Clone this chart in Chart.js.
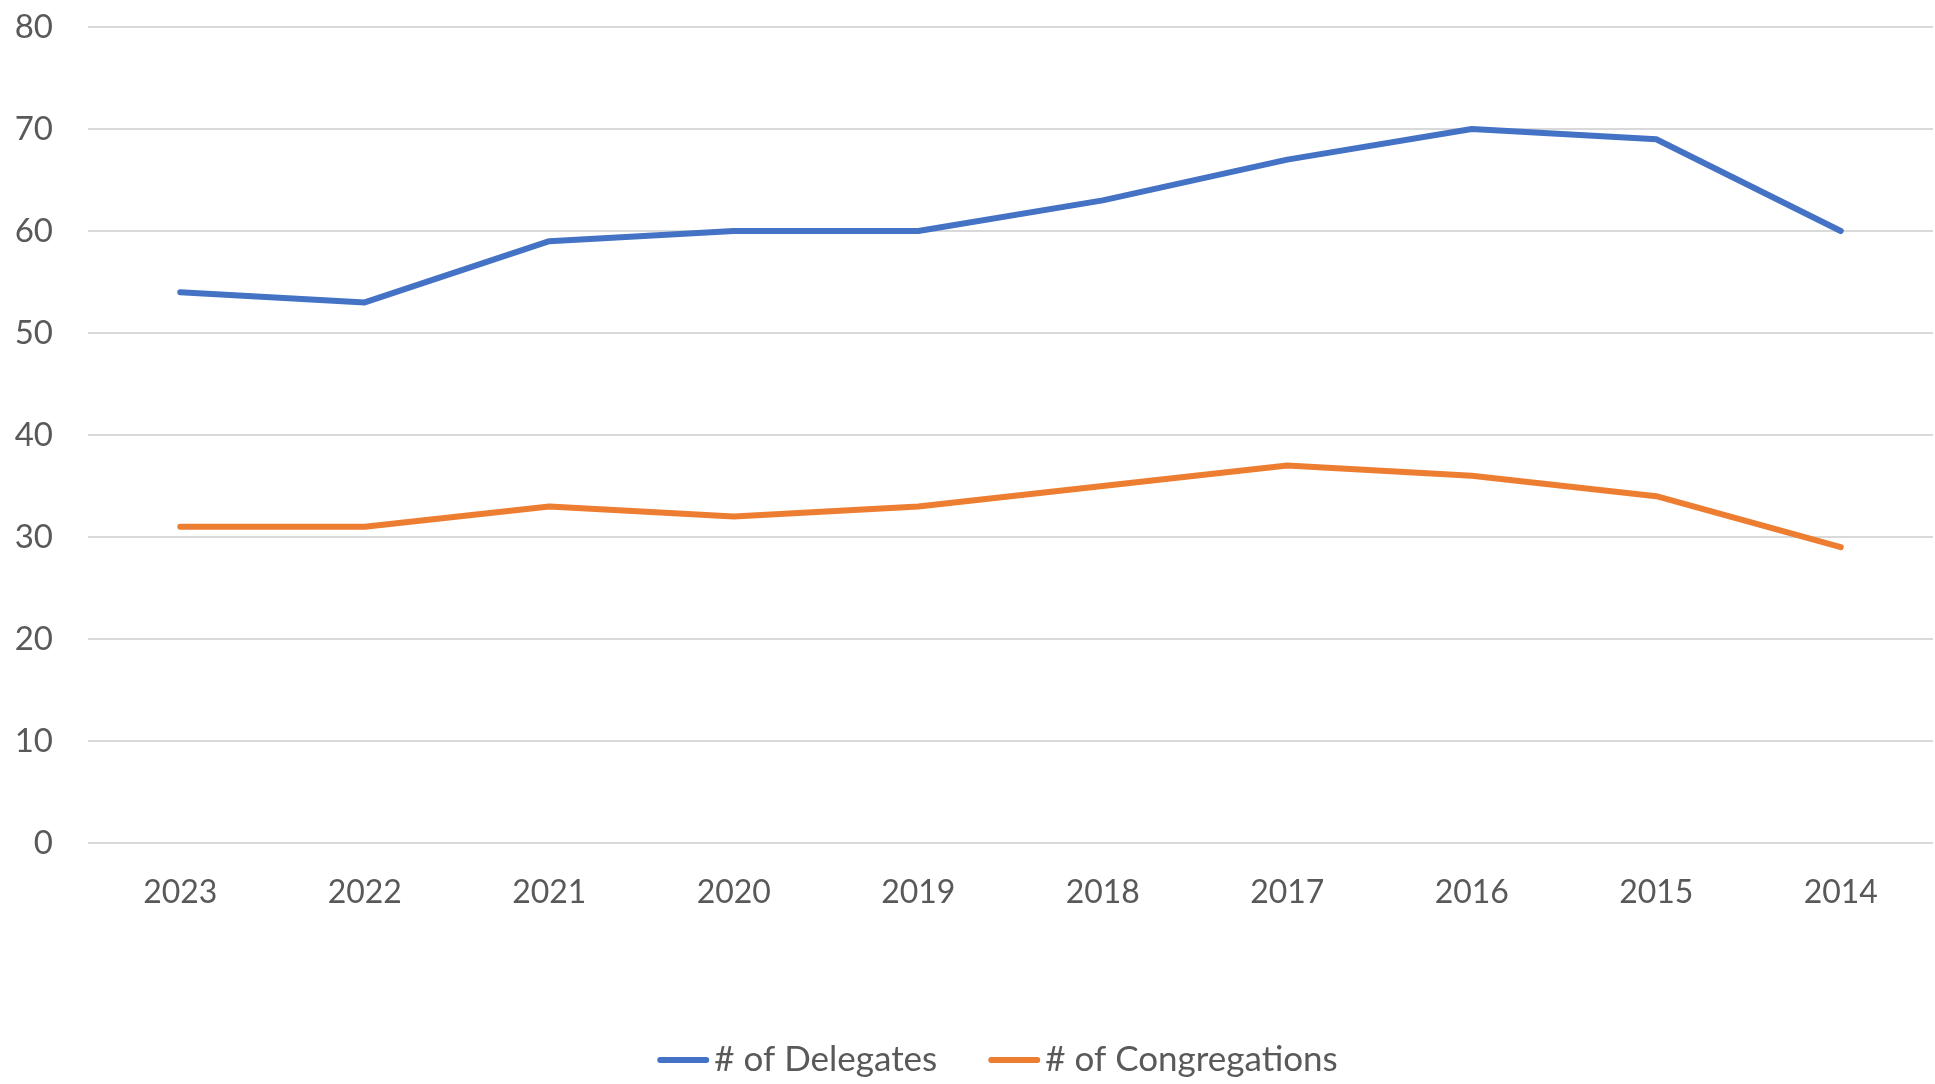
<!DOCTYPE html>
<html>
<head>
<meta charset="utf-8">
<script src="https://cdn.jsdelivr.net/npm/chart.js@4.4.0/dist/chart.umd.min.js"></script>
<style>
  html, body { margin: 0; padding: 0; background: #fff; }
  #wrap { width: 1935px; height: 1084px; }
</style>
</head>
<body>
<div id="wrap"><canvas id="chart"></canvas></div>
<script>
// data
const years = ['2023', '2022', '2021', '2020', '2019', '2018', '2017', '2016', '2015', '2014'];
const delegates = [54, 53, 59, 60, 60, 63, 67, 70, 69, 60];
const congregations = [31, 31, 33, 32, 33, 35, 37, 36, 34, 29];
const yTicks = [0, 10, 20, 30, 40, 50, 60, 70, 80];

const textColor = '#595959';
const fontFamily = 'Lato, "Open Sans", sans-serif';

// legend like the office one: short line, text right after it
const lineLegend = {
  id: 'lineLegend',
  afterDraw(chart) {
    const ctx = chart.ctx;
    const sets = chart.data.datasets;
    const lineLen = 52, gap = 5, itemGap = 51, y = 1060;
    ctx.save();
    ctx.font = '35px ' + fontFamily;
    const widths = sets.map(ds => lineLen + gap + ctx.measureText(ds.label).width);
    const total = widths.reduce((a, b) => a + b, 0) + itemGap * (sets.length - 1);
    let x = (chart.chartArea.left + chart.chartArea.right) / 2 - 13 - total / 2;
    sets.forEach((ds, i) => {
      ctx.strokeStyle = ds.borderColor;
      ctx.lineWidth = 6;
      ctx.lineCap = 'round';
      ctx.beginPath();
      ctx.moveTo(x + 3, y);
      ctx.lineTo(x + lineLen - 3, y);
      ctx.stroke();
      ctx.fillStyle = textColor;
      ctx.textBaseline = 'middle';
      ctx.textAlign = 'left';
      ctx.fillText(ds.label, x + lineLen + gap, y);
      x += widths[i] + itemGap;
    });
    ctx.restore();
  }
};

new Chart(document.getElementById('chart'), {
  type: 'line',
  data: {
    labels: years,
    datasets: [
      {
        label: '# of Delegates',
        data: delegates,
        borderColor: '#4472C4',
        backgroundColor: '#4472C4',
        borderWidth: 6,
        pointRadius: 0,
        tension: 0,
        borderCapStyle: 'round',
        borderJoinStyle: 'round'
      },
      {
        label: '# of Congregations',
        data: congregations,
        borderColor: '#ED7D31',
        backgroundColor: '#ED7D31',
        borderWidth: 6,
        pointRadius: 0,
        tension: 0,
        borderCapStyle: 'round',
        borderJoinStyle: 'round'
      }
    ]
  },
  options: {
    responsive: true,
    maintainAspectRatio: false,
    animation: false,
    layout: { padding: { top: 27, right: 2, bottom: 44, left: 0 } },
    plugins: {
      tooltip: { enabled: false },
      legend: { display: false }
    },
    scales: {
      x: {
        offset: true,
        grid: { display: false, drawTicks: false },
        border: { display: false },
        ticks: {
          color: textColor,
          font: { family: fontFamily, size: 32 },
          padding: 30,
          maxRotation: 0
        },
        afterFit: scale => { scale.height = 197; }
      },
      y: {
        min: 0,
        max: 80,
        afterBuildTicks: scale => { scale.ticks = yTicks.map(v => ({ value: v })); },
        grid: { color: '#d9d9d9', lineWidth: 2, drawTicks: false },
        border: { display: false },
        ticks: {
          color: textColor,
          font: { family: fontFamily, size: 33 },
          padding: 35
        },
        afterFit: scale => {
          scale.width = 88;
          scale.paddingTop = 0;
          scale.paddingBottom = 0;
        }
      }
    }
  },
  plugins: [lineLegend]
});
</script>
</body>
</html>
